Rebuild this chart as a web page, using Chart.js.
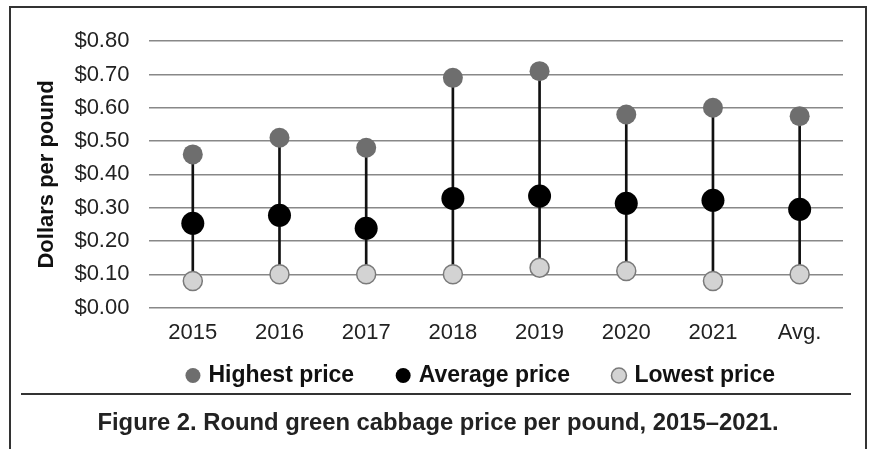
<!DOCTYPE html>
<html>
<head>
<meta charset="utf-8">
<script src="https://cdn.jsdelivr.net/npm/chart.js@4"></script>
<style>
  body { margin: 0; background: #fff; font-family: "Liberation Sans", Arial, sans-serif; overflow: hidden; }
  #frame { position: absolute; left: 9px; top: 6px; width: 854px; height: 460px; border: 2px solid #333; border-bottom: none; }
  #wrap { position: absolute; left: 0; top: 0; width: 854px; height: 428px; }
  #rule { position: absolute; left: 10px; top: 385px; width: 830px; height: 2px; background: #333; }
  #caption { position: absolute; left: 0; top: 400px; width: 854px; text-align: center; font-weight: bold; font-size: 23.8px; color: #222; }
</style>
</head>
<body>
<div id="frame">
  <div id="wrap"><canvas id="chart"></canvas></div>
  <div id="rule"></div>
  <div id="caption">Figure 2. Round green cabbage price per pound, 2015–2021.</div>
</div>
<script>
const years = ['2015', '2016', '2017', '2018', '2019', '2020', '2021', 'Avg.'];
const highest = [0.46, 0.51, 0.48, 0.69, 0.71, 0.58, 0.60, 0.575];
const average = [0.253, 0.277, 0.238, 0.328, 0.335, 0.313, 0.322, 0.295];
const lowest = [0.08, 0.10, 0.10, 0.10, 0.12, 0.11, 0.08, 0.10];

// vertical stems run from lowest to highest price
const ranges = lowest.map((lo, i) => [lo, highest[i]]);

// legend padding is wide for the item spacing, so pull the legend up and
// line it up under the plot instead of the whole canvas
const legendLift = {
  id: 'legendLift',
  afterLayout(chart) {
    const lg = chart.legend;
    lg.top -= 39;
    lg.bottom -= 39;
    lg.left += 55;
    lg.right += 55;
  },
};

const chart = new Chart(document.getElementById('chart'), {
  type: 'bar',
  data: {
    labels: years,
    datasets: [
      {
        type: 'line',
        label: 'Highest price',
        data: highest,
        showLine: false,
        pointStyle: 'circle',
        pointRadius: 10,
        backgroundColor: '#6e6e6e',
        borderColor: '#6e6e6e',
        borderWidth: 0,
        pointBorderWidth: 0,
        order: 3,
      },
      {
        type: 'line',
        label: 'Average price',
        data: average,
        showLine: false,
        pointStyle: 'circle',
        pointRadius: 11.5,
        backgroundColor: '#000',
        borderColor: '#000',
        borderWidth: 0,
        pointBorderWidth: 0,
        order: 1,
      },
      {
        type: 'line',
        label: 'Lowest price',
        data: lowest,
        showLine: false,
        pointStyle: 'circle',
        pointRadius: 9.5,
        backgroundColor: '#d3d3d3',
        borderColor: '#7a7a7a',
        borderWidth: 1.5,
        pointBorderWidth: 1.5,
        order: 2,
      },
      {
        label: 'range',
        data: ranges,
        backgroundColor: '#111',
        barThickness: 2,
        order: 5,
      },
    ],
  },
  plugins: [legendLift],
  options: {
    responsive: true,
    maintainAspectRatio: false,
    animation: false,
    layout: { padding: { left: 0, right: 22, top: 24, bottom: 0 } },
    plugins: {
      tooltip: { enabled: false },
      legend: {
        position: 'bottom',
        labels: {
          usePointStyle: true,
          boxWidth: 8,
          boxHeight: 10.6,
          padding: 45,
          color: '#111',
          font: { family: '"Liberation Sans", Arial', size: 23, weight: 'bold' },
          filter: (item) => item.text !== 'range',
          sort: (a, b) => a.datasetIndex - b.datasetIndex,
        },
      },
    },
    scales: {
      x: {
        grid: { display: false, drawTicks: false },
        border: { display: false },
        ticks: { color: '#222', padding: 12, font: { family: '"Liberation Sans", Arial', size: 22 } },
      },
      y: {
        min: 0,
        max: 0.8,
        grid: { color: '#888', lineWidth: 1.5, drawTicks: false },
        border: { display: false },
        ticks: {
          stepSize: 0.1,
          autoSkip: false,
          padding: 20,
          color: '#222',
          font: { family: '"Liberation Sans", Arial', size: 22 },
          callback: (v) => '$' + Number(v).toFixed(2),
        },
        title: {
          display: true,
          text: 'Dollars per pound',
          color: '#111',
          font: { family: '"Liberation Sans", Arial', size: 22, weight: 'bold' },
          padding: { top: 23, bottom: -6 },
        },
      },
    },
  },
});
</script>
</body>
</html>
